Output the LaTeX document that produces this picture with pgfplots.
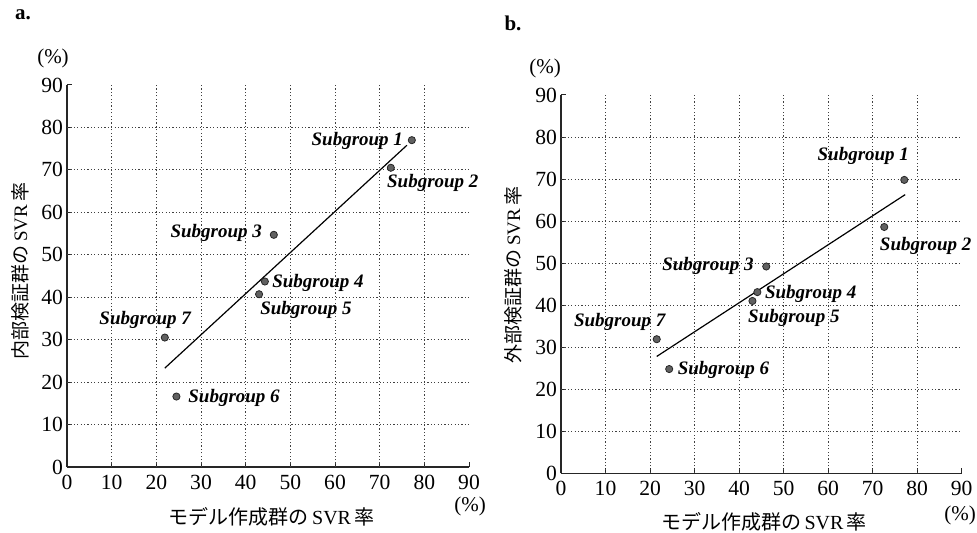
\documentclass[border=0pt]{standalone}
\usepackage{fontspec}
\setmainfont{Liberation Serif}
\newfontfamily\jp{Noto Sans CJK JP}
\usepackage{pgfplots}
\pgfplotsset{compat=1.18}
\tikzset{
  sg/.style={font=\fontsize{9.5}{11}\selectfont\bfseries\itshape, inner sep=0pt},
}
\begin{document}
\begin{tikzpicture}
\pgfplotsset{
  panel/.style={
    scale only axis, anchor=south west,
    xmin=0, xmax=90, ymin=0, ymax=90,
    enlargelimits=false,
    axis x line=bottom, axis y line=left,
    axis line style={-, line width=0.6pt, black!85},
    xtick={0,10,...,90}, ytick={0,10,...,90},
    extra x ticks={10,20,...,80}, extra y ticks={10,20,...,80},
    extra x tick labels={}, extra y tick labels={},
    extra tick style={grid=major, major tick length=0pt},
    major grid style={line width=0.5pt, black!75, dash pattern=on 0.6pt off 1.1pt},
    tick align=inside, major tick length=2.5pt,
    tick style={black!85, line width=0.5pt},
    /pgf/number format/assume math mode=true,
    ticklabel style={font=\fontsize{10.8}{12}\selectfont},
    xticklabel style={yshift=-0.5pt},
    yticklabel style={xshift=1.5pt},
    clip=false,
  },
  dots/.style={only marks, mark=*, mark size=1.8pt, mark options={fill=black!62, draw=black!85, line width=0.4pt}},
}
\path[use as bounding box] (0,0) rectangle (488.5pt,266.5pt);
% Panel a
\begin{axis}[panel, at={(33.5pt,33pt)}, width=201pt, height=191pt]
\addplot[black, line width=0.6pt] coordinates {(21.9,23.3) (76.1,75.8)};
\addplot[dots] coordinates {(77.2,77.0) (72.5,70.5) (46.3,54.7) (44.3,43.7) (43.0,40.7) (24.5,16.6) (21.9,30.5)};
\node[sg] at (axis cs:65.0,76.8) {Subgroup 1};
\node[sg] at (axis cs:81.9,66.9) {Subgroup 2};
\node[sg] at (axis cs:33.4,55.2) {Subgroup 3};
\node[sg] at (axis cs:56.2,43.4) {Subgroup 4};
\node[sg] at (axis cs:53.5,37.0) {Subgroup 5};
\node[sg] at (axis cs:37.4,16.2) {Subgroup 6};
\node[sg] at (axis cs:17.5,34.6) {Subgroup 7};
\end{axis}
% Panel b
\begin{axis}[panel, at={(280.5pt,29.85pt)}, width=200.35pt, height=189.15pt]
\addplot[black, line width=0.6pt] coordinates {(21.5,27.8) (77.3,66.3)};
\addplot[dots] coordinates {(77.1,69.8) (72.6,58.6) (46.1,49.2) (44.1,43.1) (43.0,41.0) (24.3,24.8) (21.5,31.9)};
\node[sg] at (axis cs:67.9,75.5) {Subgroup 1};
\node[sg] at (axis cs:81.9,54.1) {Subgroup 2};
\node[sg] at (axis cs:33.0,49.3) {Subgroup 3};
\node[sg] at (axis cs:56.1,42.6) {Subgroup 4};
\node[sg] at (axis cs:52.3,37.0) {Subgroup 5};
\node[sg] at (axis cs:36.5,24.6) {Subgroup 6};
\node[sg] at (axis cs:13.2,36.0) {Subgroup 7};
\end{axis}
% Panel letters
\node[font=\fontsize{10.5}{12}\selectfont\bfseries] at (11.5pt,259pt) {a.};
\node[font=\fontsize{10.5}{12}\selectfont\bfseries] at (256.5pt,255pt) {b.};
% percent units
\node[font=\fontsize{10.5}{12}\selectfont] at (26.5pt,237.5pt) {(\%)};
\node[font=\fontsize{10.5}{12}\selectfont] at (235pt,13.15pt) {(\%)};
\node[font=\fontsize{10.5}{12}\selectfont] at (272.5pt,232.5pt) {(\%)};
\node[font=\fontsize{10.5}{12}\selectfont] at (480pt,9pt) {(\%)};
% axis labels
\node[font=\fontsize{10}{11}\selectfont] at (135.8pt,8.15pt) {{\jp モデル作成群の}\,SVR\,{\jp 率}};
\node[font=\fontsize{10}{11}\selectfont] at (382pt,5.65pt) {{\jp モデル作成群の}\,SVR\,{\jp 率}};
\node[font=\fontsize{9.5}{11}\selectfont, rotate=90] at (10pt,131pt) {{\jp 内部検証群の}\,SVR\,{\jp 率}};
\node[font=\fontsize{9.5}{11}\selectfont, rotate=90] at (256.5pt,129pt) {{\jp 外部検証群の}\,SVR\,{\jp 率}};
\end{tikzpicture}
\end{document}
